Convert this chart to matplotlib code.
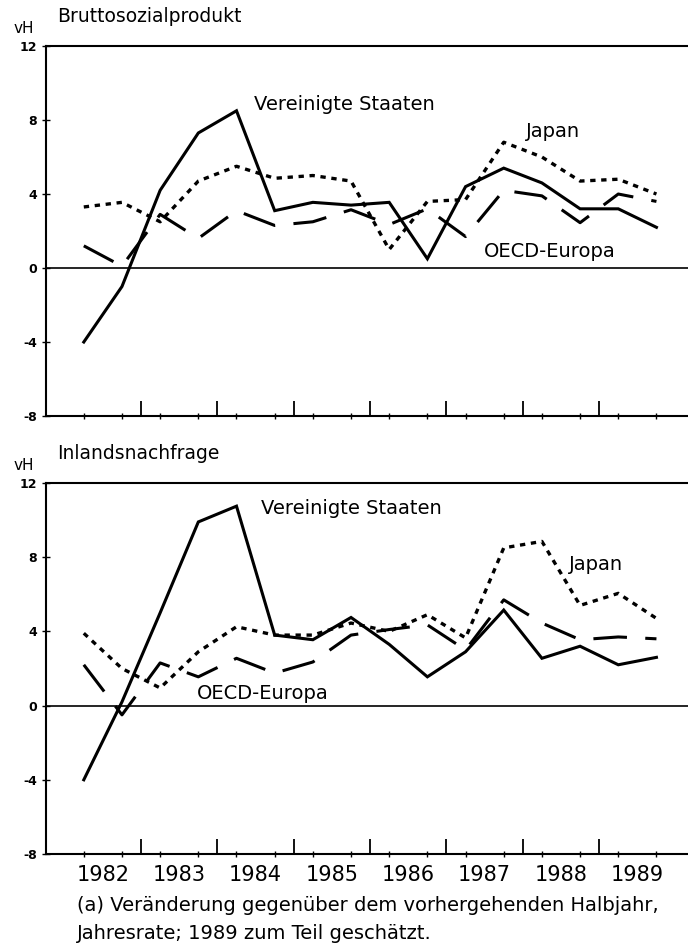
import matplotlib
matplotlib.use('Agg')
import matplotlib.pyplot as plt

plt.rcParams['font.family'] = ['DejaVu Sans']

# Half-year observations 1982 H1 .. 1989 H2
years = ['1982', '1983', '1984', '1985', '1986', '1987', '1988', '1989']
idx = list(range(16))

# Bruttosozialprodukt
bsp_us = [-4.0, -1.0, 4.2, 7.3, 8.5, 3.1, 3.55, 3.4, 3.55, 0.5, 4.4, 5.4, 4.6, 3.2, 3.2, 2.2]
bsp_jp = [3.3, 3.55, 2.5, 4.7, 5.5, 4.85, 5.0, 4.7, 1.0, 3.6, 3.7, 6.8, 6.0, 4.7, 4.8, 4.0]
bsp_eu = [1.2, 0.1, 2.9, 1.6, 3.1, 2.3, 2.5, 3.15, 2.35, 3.2, 1.7, 4.2, 3.9, 2.45, 4.0, 3.6]

# Inlandsnachfrage
inl_us = [-4.0, 0.2, 5.0, 9.9, 10.75, 3.8, 3.55, 4.75, 3.3, 1.55, 2.9, 5.15, 2.55, 3.2, 2.2, 2.6]
inl_jp = [3.9, 2.0, 0.95, 2.9, 4.25, 3.8, 3.8, 4.45, 4.0, 4.9, 3.65, 8.5, 8.85, 5.4, 6.05, 4.7]
inl_eu = [2.2, -0.5, 2.3, 1.55, 2.55, 1.75, 2.35, 3.8, 4.1, 4.35, 3.0, 5.7, 4.45, 3.55, 3.7, 3.6]

yticks = [-8, -4, 0, 4, 8, 12]

fig = plt.figure(figsize=(6.88, 9.47), dpi=100)


def panel(rect, title, us, jp, eu, labels_pos, show_years):
    ax = fig.add_axes(rect)
    ax.plot(idx, us, color='black', lw=2.2, solid_joinstyle='miter')
    ax.plot(idx, jp, color='black', lw=2.4, linestyle=(0, (1.6, 1.7)))
    ax.plot(idx, eu, color='black', lw=2.2, linestyle=(0, (11, 6)))
    ax.axhline(0, color='black', lw=1.2)

    ax.set_xlim(-1, 15.85)
    ax.set_ylim(-8, 12)
    for s in ['top', 'bottom', 'left']:
        ax.spines[s].set_linewidth(1.5)
    ax.spines['right'].set_visible(False)

    ax.set_yticks(yticks)
    ax.set_yticklabels([str(v) for v in yticks], fontsize=9, fontweight='bold')
    ax.tick_params(axis='y', direction='inout', length=6, width=1, pad=3)

    # year boundaries (tall ticks) and half-year marks (small ticks)
    bounds = [i + 0.5 for i in idx[1:-1:2]]
    ax.set_xticks(bounds)
    ax.set_xticklabels([])
    ax.tick_params(axis='x', which='major', direction='in', length=11, width=1.3)
    ax.set_xticks(idx, minor=True)
    ax.tick_params(axis='x', which='minor', direction='inout', length=5, width=1)

    if show_years:
        sec = ax.secondary_xaxis('bottom')
        sec.set_xticks([i + 0.5 for i in idx[::2]])
        sec.set_xticklabels(years, fontsize=15)
        sec.tick_params(length=0, pad=8)
        sec.spines['bottom'].set_visible(False)

    top = rect[1] + rect[3]
    fig.text(0.019, top + 0.011, 'vH', fontsize=11, ha='left', va='bottom')
    fig.text(0.083, top + 0.021, title, fontsize=13.5, ha='left', va='bottom')

    (xu, yu), (xj, yj), (xe, ye) = labels_pos
    ax.text(xu, yu, 'Vereinigte Staaten', fontsize=14, va='center', ha='left')
    ax.text(xj, yj, 'Japan', fontsize=14, va='center', ha='left')
    ax.text(xe, ye, 'OECD-Europa', fontsize=14, va='center', ha='left')
    return ax


panel([0.0663, 0.5607, 0.935, 0.3907], 'Bruttosozialprodukt',
      bsp_us, bsp_jp, bsp_eu,
      [(4.45, 8.85), (11.58, 7.4), (10.48, 0.88)], False)
panel([0.0663, 0.0982, 0.935, 0.3918], 'Inlandsnachfrage',
      inl_us, inl_jp, inl_eu,
      [(4.64, 10.62), (12.7, 7.6), (2.97, 0.66)], True)

fig.text(0.112, 1 - 905 / 947, '(a) Veränderung gegenüber dem vorhergehenden Halbjahr,',
         fontsize=14, ha='left', va='center')
fig.text(0.112, 1 - 933 / 947, 'Jahresrate; 1989 zum Teil geschätzt.',
         fontsize=14, ha='left', va='center')

fig.savefig('out.png', dpi=100)
